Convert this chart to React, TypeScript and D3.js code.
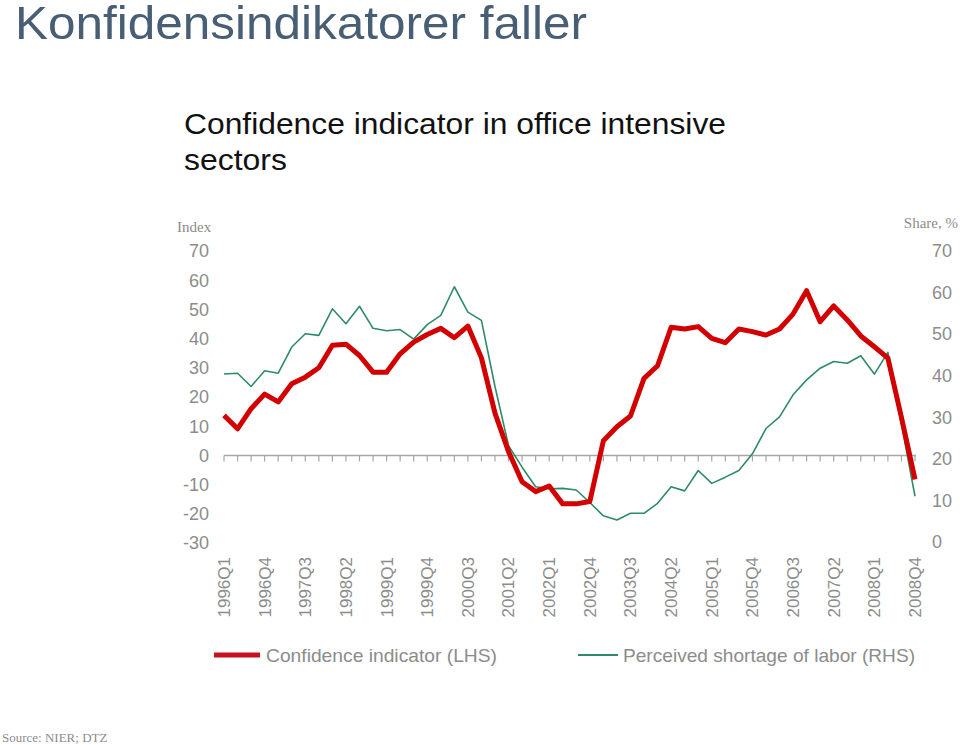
import React from "react";
import * as d3 from "d3";

const quarters = [
  "1996Q1","1996Q2","1996Q3","1996Q4","1997Q1","1997Q2","1997Q3","1997Q4",
  "1998Q1","1998Q2","1998Q3","1998Q4","1999Q1","1999Q2","1999Q3","1999Q4",
  "2000Q1","2000Q2","2000Q3","2000Q4","2001Q1","2001Q2","2001Q3","2001Q4",
  "2002Q1","2002Q2","2002Q3","2002Q4","2003Q1","2003Q2","2003Q3","2003Q4",
  "2004Q1","2004Q2","2004Q3","2004Q4","2005Q1","2005Q2","2005Q3","2005Q4",
  "2006Q1","2006Q2","2006Q3","2006Q4","2007Q1","2007Q2","2007Q3","2007Q4",
  "2008Q1","2008Q2","2008Q3","2008Q4",
];

const confidence = [
  13.7, 9.1, 16, 21, 18.3, 24.5, 26.8, 30,
  37.7, 38.1, 34.2, 28.5, 28.5, 34.8, 38.8, 41.4,
  43.5, 40.3, 44.3, 33.4, 14.5, 1.3, -9, -12.4,
  -10.5, -16.6, -16.6, -15.8, 5, 9.8, 13.5, 26.4,
  30.7, 43.9, 43.3, 44.1, 40.1, 38.6, 43.3, 42.4,
  41.2, 43.3, 48.4, 56.4, 45.8, 51.2, 46.4, 40.9,
  37.2, 33.3, 13, -8.2,
];

const laborShortage = [
  40.4, 40.6, 37.4, 41.2, 40.6, 46.9, 50.1, 49.7,
  56.1, 52.5, 56.7, 51.4, 50.8, 51.1, 48.8, 52.3,
  54.5, 61.4, 55.3, 53.3, 37.4, 23.2, 18, 13.3,
  12.8, 12.9, 12.5, 9.5, 6.3, 5.3, 6.9, 6.9,
  9.3, 13.3, 12.3, 17.2, 14.1, 15.6, 17.2, 21.2,
  27.3, 30.1, 35.4, 39, 41.8, 43.4, 43, 44.8,
  40.4, 45.6, 28.3, 11,
];

const leftTicks = [70, 60, 50, 40, 30, 20, 10, 0, -10, -20, -30];
const rightTicks = [70, 60, 50, 40, 30, 20, 10, 0];
const xLabelEvery = 3;

const title = "Konfidensindikatorer faller";
const subtitle1 = "Confidence indicator in office intensive";
const subtitle2 = "sectors";
const leftUnit = "Index";
const rightUnit = "Share, %";
const legend1 = "Confidence indicator (LHS)";
const legend2 = "Perceived shortage of labor (RHS)";
const source = "Source: NIER; DTZ";

const SANS = "Arial, 'Liberation Sans', sans-serif";
const SERIF = "'Times New Roman', 'Liberation Serif', serif";
const GRAY = "#8c8c8c";
const RED = "#d20000";
const GREEN = "#2f8a68";

export default function App() {
  const x = d3.scalePoint<string>().domain(quarters).range([224, 915]);
  const yL = d3.scaleLinear().domain([-30, 70]).range([543, 251]);
  const yR = d3.scaleLinear().domain([0, 70]).range([542, 251]);

  const lineL = d3
    .line<number>()
    .x((_, i) => x(quarters[i]) as number)
    .y((d) => yL(d));
  const lineR = d3
    .line<number>()
    .x((_, i) => x(quarters[i]) as number)
    .y((d) => yR(d));

  const axisY = yL(0);

  return (
    <svg
      width={960}
      height={745}
      style={{ position: "absolute", left: 0, top: 0, background: "#fff" }}
    >
      <rect width={960} height={745} fill="#fff" />
      <text
        x={15}
        y={39}
        fontFamily={SANS}
        fontSize={47}
        fill="#475e74"
        textLength={572}
        lengthAdjust="spacingAndGlyphs"
      >
        {title}
      </text>
      <text
        x={184}
        y={134}
        fontFamily={SANS}
        fontSize={30}
        fill="#111"
        textLength={542}
        lengthAdjust="spacingAndGlyphs"
      >
        {subtitle1}
      </text>
      <text x={184} y={170} fontFamily={SANS} fontSize={30} fill="#111" textLength={103} lengthAdjust="spacingAndGlyphs">
        {subtitle2}
      </text>

      <text x={177} y={232} fontFamily={SERIF} fontSize={15} fill={GRAY}>
        {leftUnit}
      </text>
      <text x={958} y={228} fontFamily={SERIF} fontSize={15} fill={GRAY} textAnchor="end">
        {rightUnit}
      </text>

      {leftTicks.map((t) => (
        <text
          key={"l" + t}
          x={209}
          y={yL(t)}
          dy="0.35em"
          textAnchor="end"
          fontFamily={SANS}
          fontSize={18}
          fill={GRAY}
        >
          {t}
        </text>
      ))}
      {rightTicks.map((t) => (
        <text
          key={"r" + t}
          x={932}
          y={yR(t)}
          dy="0.35em"
          textAnchor="start"
          fontFamily={SANS}
          fontSize={18}
          fill={GRAY}
        >
          {t}
        </text>
      ))}

      <line x1={224} x2={916} y1={axisY} y2={axisY} stroke="#a6a6a6" strokeWidth={1.5} />
      {quarters.map((q) => (
        <line
          key={"t" + q}
          x1={x(q)}
          x2={x(q)}
          y1={axisY}
          y2={axisY + 6}
          stroke="#a6a6a6"
          strokeWidth={1.2}
        />
      ))}
      {quarters.map((q, i) =>
        i % xLabelEvery === 0 ? (
          <text
            key={"x" + q}
            transform={`translate(${x(q)},557) rotate(-90)`}
            dy="0.35em"
            textAnchor="end"
            fontFamily={SANS}
            fontSize={17}
            fill={GRAY}
          >
            {q}
          </text>
        ) : null
      )}

      <path d={lineR(laborShortage) || ""} fill="none" stroke={GREEN} strokeWidth={1.6} strokeLinejoin="round" />
      <path d={lineL(confidence) || ""} fill="none" stroke={RED} strokeWidth={5} strokeLinejoin="round" />

      <line x1={214} x2={260} y1={655} y2={655} stroke="#c8101e" strokeWidth={5} />
      <text x={266} y={662} fontFamily={SANS} fontSize={19} fill={GRAY} textLength={231} lengthAdjust="spacingAndGlyphs">
        {legend1}
      </text>
      <line x1={578} x2={618} y1={655} y2={655} stroke={GREEN} strokeWidth={2} />
      <text x={623} y={662} fontFamily={SANS} fontSize={19} fill={GRAY} textLength={292} lengthAdjust="spacingAndGlyphs">
        {legend2}
      </text>

      <text x={2} y={742} fontFamily={SERIF} fontSize={13} fill={GRAY}>
        {source}
      </text>
    </svg>
  );
}
